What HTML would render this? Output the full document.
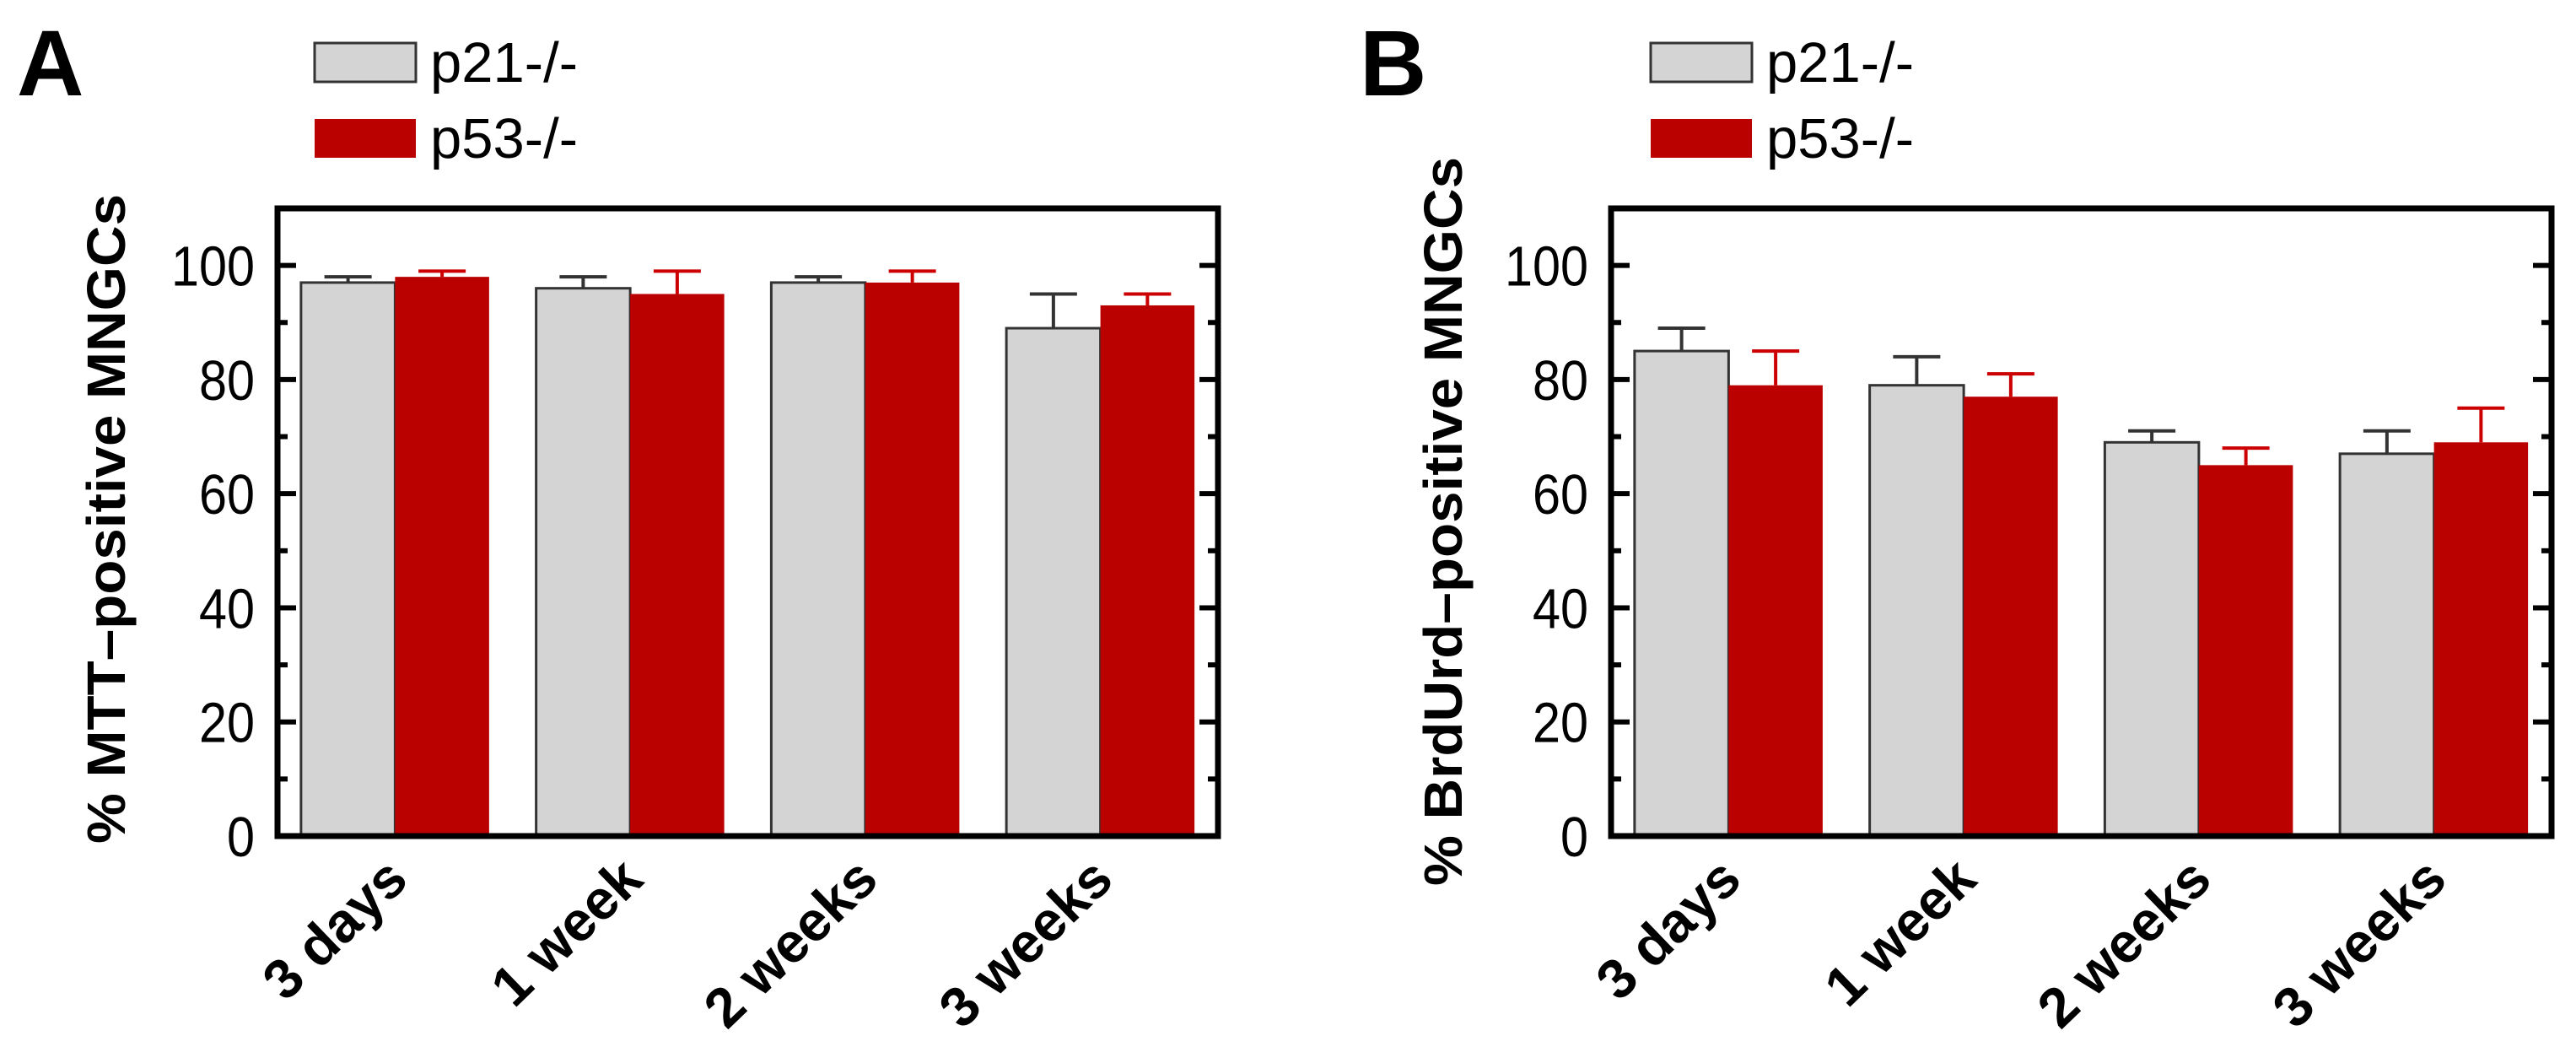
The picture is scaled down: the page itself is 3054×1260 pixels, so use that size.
<!DOCTYPE html>
<html><head><meta charset="utf-8"><style>
body{margin:0;background:#fff;width:3054px;height:1260px;overflow:hidden}
svg{display:block}
text{font-family:"Liberation Sans",Arial,sans-serif}
</style></head><body>
<svg id="fig" width="3054" height="1260" viewBox="0 0 3054 1260"></svg>
<script>
const categories = ["3 days","1 week","2 weeks","3 weeks"];
const seriesNames = ["p21-/-","p53-/-"];
const aP21 = [97,96,97,89];
const aP21Err = [1,2,1,6];
const aP53 = [98,95,97,93];
const aP53Err = [1,4,2,2];
const bP21 = [85,79,69,67];
const bP21Err = [4,5,2,4];
const bP53 = [79,77,65,69];
const bP53Err = [6,4,3,6];
const yTicks = [0,20,40,60,80,100];

const NS="http://www.w3.org/2000/svg";
const svg=document.getElementById('fig');
function mk(tag,attrs,parent,txt){const e=document.createElementNS(NS,tag);for(const k in attrs)e.setAttribute(k,attrs[k]);if(txt!==undefined)e.textContent=txt;(parent||svg).appendChild(e);return e;}

function panel(opt){
  const g=mk('g',{});
  
  
  const L=opt.left,R=opt.left+1115,T=247,B=991,yMax=110;
  const y=v=>B-(v/yMax)*(B-T);
  const slot=(R-L)/categories.length;
  const bw=slot*0.4;
  const colors=['#d4d4d4','#bb0000'];
  const errColors=['#333','#cc0000'];
  const vals=[opt.s1,opt.s2], errs=[opt.e1,opt.e2];
  categories.forEach((c,i)=>{
    const cx=L+slot*(i+0.5);
    for(let s=0;s<2;s++){
      const x0=cx-bw+s*bw, v=vals[s][i], e=errs[s][i], bx=x0+bw/2;
      const el=mk('line',{x1:bx,x2:bx,y1:y(v),y2:y(v+e),stroke:errColors[s],'stroke-width':4},g);
      
      
      const cap=mk('line',{x1:bx-28,x2:bx+28,y1:y(v+e),y2:y(v+e),stroke:errColors[s],'stroke-width':4},g);
      
      
      const r=mk('rect',{x:x0,y:y(v),width:bw,height:B-y(v),fill:colors[s],stroke:s?'none':'#333','stroke-width':s?0:3},g);
      
      
    }
    const lx=cx+18, ly=1046;
    const t=mk('text',{x:lx,y:ly,'font-size':66,'font-weight':'bold','text-anchor':'end',transform:`rotate(-44 ${lx} ${ly})`},g,c);
    
    
  });
  for(let v=10;v<=100;v+=10){
    const len=(v%20===0)?22:12;
    mk('line',{x1:L,x2:L+len,y1:y(v),y2:y(v),stroke:'#000','stroke-width':6},g);
    mk('line',{x1:R,x2:R-len,y1:y(v),y2:y(v),stroke:'#000','stroke-width':6},g);
  }
  yTicks.forEach(v=>{
    const s=String(v);
    const t=mk('text',{x:L-27,y:y(v)+24,'font-size':67,'text-anchor':'end',textLength:s.length*33,lengthAdjust:'spacingAndGlyphs'},g,s);
    
    
  });
  const f=mk('rect',{x:L,y:T,width:R-L,height:B-T,fill:'none',stroke:'#000','stroke-width':7},g);
  
  
  const yt=mk('text',{x:opt.titleX,y:opt.titleCY,'font-size':64,'font-weight':'bold','text-anchor':'middle',textLength:opt.titleLen,lengthAdjust:'spacingAndGlyphs',transform:`rotate(-90 ${opt.titleX} ${opt.titleCY})`},g,opt.title);
  
  
  const pl=mk('text',{x:opt.letterX,y:113,'font-size':110,'font-weight':'bold'},g,opt.letter);
  
  
  seriesNames.forEach((n,s)=>{
    const ly=51+s*90;
    const r=mk('rect',{x:opt.legX,y:ly,width:120,height:46,fill:colors[s],stroke:s?'none':'#333','stroke-width':s?0:3},g);
    
    
    const t=mk('text',{x:opt.legX+137,y:ly+46,'font-size':67},g,n);
    
    
  });
}
panel({name:'panel-a',left:329,s1:aP21,e1:aP21Err,s2:aP53,e2:aP53Err,title:'% MTT–positive MNGCs',titleX:148,titleCY:615,titleLen:770,letter:'A',letterX:20,legX:373});
panel({name:'panel-b',left:1910,s1:bP21,e1:bP21Err,s2:bP53,e2:bP53Err,title:'% BrdUrd–positive MNGCs',titleX:1733,titleCY:618,titleLen:864,letter:'B',letterX:1612,legX:1957});
</script>
</body></html>
